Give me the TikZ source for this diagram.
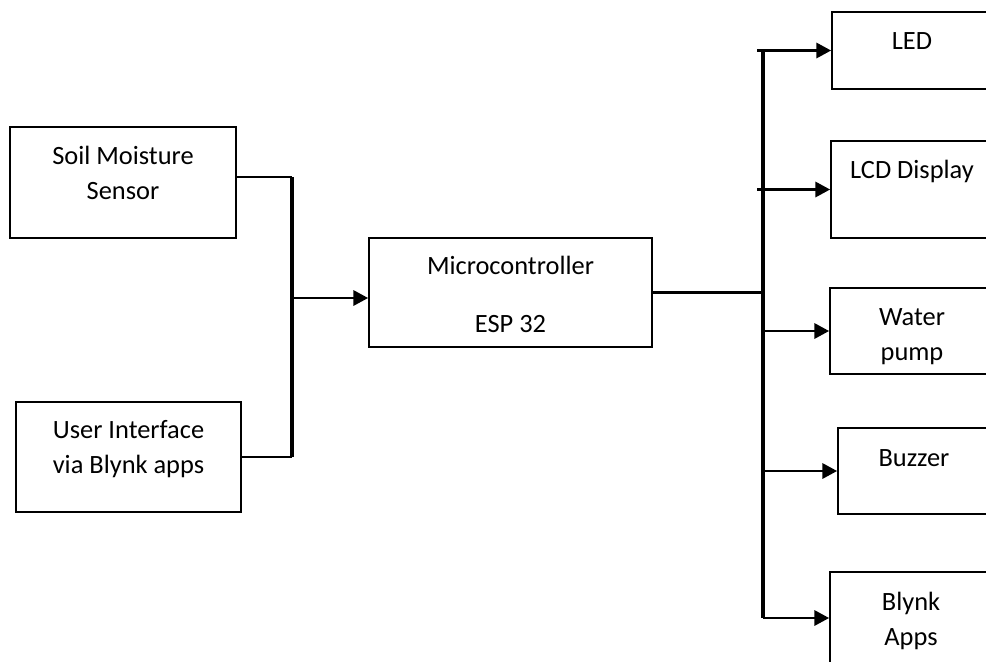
\documentclass[tikz,border=0pt]{standalone}
\usepackage{fontspec}
\setmainfont{Carlito}
\usetikzlibrary{arrows.meta,fit}
\begin{document}
\begin{tikzpicture}[x=0.75pt,y=-0.75pt,
  box/.style={draw,line width=1.4pt,inner sep=0pt},
  lbl/.style={anchor=base,inner sep=0pt,align=center,font=\fontsize{19.8}{26.25}\selectfont},
  wire/.style={line width=1.6pt},
  bus/.style={line width=2.7pt},
  arr/.style={line width=1.6pt,-{Triangle[length=11pt,width=11.5pt]}}]
\useasboundingbox (0,0) rectangle (986,661);
\clip (0,0) rectangle (986,661);
% blocks
\node[box,fit={(10,127) (236,238)}] (soil) {};
\node[box,fit={(16,402) (241,512)}] (ui) {};
\node[box,fit={(369,238) (652,347)}] (mcu) {};
\node[box,fit={(832,12) (993,89)}] (led) {};
\node[box,fit={(831,141) (993,238)}] (lcd) {};
\node[box,fit={(830,288) (993,374)}] (pump) {};
\node[box,fit={(838,428) (993,514)}] (buzz) {};
\node[box,fit={(830,572) (993,664)}] (blynk) {};
% texts (base = last line)
\node[lbl] (soilL) at (123,199) {Soil Moisture\\Sensor};
\node[lbl] (uiL) at (128.5,473) {User Interface\\via Blynk apps};
\node[lbl] (mcuL) at (510.5,332) {Microcontroller\\[17.25pt]ESP 32};
\node[lbl] (ledL) at (912,49) {LED};
\node[lbl] (lcdL) at (912,178) {LCD Display};
\node[lbl] (pumpL) at (912,360) {Water\\pump};
\node[lbl] (buzzL) at (914,466) {Buzzer};
\node[lbl] (blynkL) at (911,645) {Blynk\\Apps};
% inputs
\coordinate (busLtop) at (292,177);
\coordinate (busLbot) at (292,457);
\coordinate (busLmid) at (292,298);
\draw[wire] (soil.east |- busLtop) -- (busLtop);
\draw[wire] (ui.east |- busLbot) -- (busLbot);
\draw[bus] (busLtop) -- (busLbot);
\draw[arr] (busLmid) -- (mcu.west |- busLmid);
% outputs
\coordinate (busRtop) at (led.west -| 763,0);
\coordinate (busRbot) at (blynk.west -| 763,0);
\draw[bus] (busRtop) -- (busRbot);
\draw[wire] (mcu.east) -- (mcu.east -| busRtop);
\foreach \nm/\xs in {led/757,lcd/757,pump/763,buzz/763,blynk/763}
  \draw[arr] (\nm.west -| \xs,0) -- (\nm.west);
\end{tikzpicture}
\end{document}
